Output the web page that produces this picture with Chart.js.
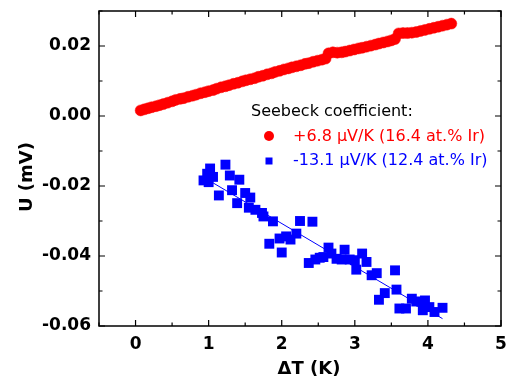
<!DOCTYPE html>
<html>
<head>
<meta charset="utf-8">
<script src="https://cdn.jsdelivr.net/npm/chart.js@4.4.1/dist/chart.umd.min.js"></script>
<style>
  html, body { margin: 0; padding: 0; background: #fff; }
</style>
</head>
<body>
<canvas id="seebeckChart" width="510" height="381"></canvas>
<script>
// 16.4 at.% Ir sample (red circles)
const redX = [
  0.07, 0.12, 0.17, 0.22, 0.28, 0.33, 0.38, 0.44, 0.50, 0.55,
  0.61, 0.66, 0.72, 0.78, 0.83, 0.89, 0.95, 1.00, 1.06, 1.11,
  1.17, 1.23, 1.28, 1.34, 1.40, 1.46, 1.51, 1.57, 1.63, 1.68,
  1.74, 1.80, 1.86, 1.91, 1.97, 2.03, 2.09, 2.14, 2.20, 2.26,
  2.32, 2.37, 2.43, 2.49, 2.55, 2.60, 2.64, 2.70, 2.76, 2.82,
  2.87, 2.93, 2.99, 3.05, 3.10, 3.16, 3.22, 3.28, 3.33, 3.39,
  3.45, 3.50, 3.55, 3.60, 3.66, 3.72, 3.78, 3.84, 3.90, 3.96,
  4.02, 4.08, 4.14, 4.20, 4.26, 4.32
];
const redY = [
  0.0016, 0.0019, 0.0022, 0.0025, 0.0028, 0.0031, 0.0034, 0.0038, 0.0042, 0.0046,
  0.0049, 0.0051, 0.0055, 0.0058, 0.0061, 0.0065, 0.0068, 0.0071, 0.0074, 0.0078,
  0.0082, 0.0085, 0.0088, 0.0092, 0.0095, 0.0099, 0.0102, 0.0105, 0.0108, 0.0112,
  0.0115, 0.0119, 0.0122, 0.0126, 0.0129, 0.0133, 0.0136, 0.0139, 0.0142, 0.0145,
  0.0149, 0.0151, 0.0155, 0.0158, 0.0161, 0.0164, 0.0179, 0.0182, 0.0181, 0.0182,
  0.0184, 0.0187, 0.0190, 0.0193, 0.0195, 0.0198, 0.0201, 0.0204, 0.0207, 0.0210,
  0.0213, 0.0216, 0.0220, 0.0236, 0.0237, 0.0237, 0.0238, 0.0240, 0.0243, 0.0246,
  0.0249, 0.0252, 0.0255, 0.0258, 0.0261, 0.0264
];

// 12.4 at.% Ir sample (blue squares)
const blueX = [
  0.93, 0.98, 1.00, 1.02, 1.06, 1.14, 1.23, 1.29, 1.32, 1.39,
  1.42, 1.50, 1.55, 1.57, 1.64, 1.73, 1.75, 1.83, 1.88, 1.97,
  2.00, 2.06, 2.12, 2.20, 2.25, 2.37, 2.42, 2.46, 2.52, 2.57,
  2.64, 2.68, 2.75, 2.82, 2.86, 2.93, 3.00, 3.02, 3.10, 3.16,
  3.23, 3.30, 3.33, 3.41, 3.55, 3.57, 3.61, 3.70, 3.78, 3.84,
  3.91, 3.93, 3.96, 4.02, 4.09, 4.20
];
const blueY = [
  -0.0184, -0.0165, -0.0189, -0.0150, -0.0174, -0.0227, -0.0139, -0.0170, -0.0212, -0.0249,
  -0.0182, -0.0220, -0.0262, -0.0233, -0.0268, -0.0277, -0.0287, -0.0365, -0.0301, -0.0350,
  -0.0390, -0.0344, -0.0353, -0.0336, -0.0300, -0.0420, -0.0302, -0.0410, -0.0405, -0.0403,
  -0.0376, -0.0393, -0.0408, -0.0410, -0.0382, -0.0410, -0.0412, -0.0439, -0.0393, -0.0417,
  -0.0455, -0.0449, -0.0525, -0.0506, -0.0441, -0.0496, -0.0550, -0.0550, -0.0522, -0.0530,
  -0.0531, -0.0555, -0.0527, -0.0546, -0.0560, -0.0548
];

// linear fit through the blue points
const fitX = [1.06, 4.20];
const fitY = [-0.0191, -0.0579];

const xTicks = [0, 1, 2, 3, 4, 5];
const yTicks = [-0.06, -0.04, -0.02, 0.00, 0.02];

const legendTitle = 'Seebeck coefficient:';
const legendRed = '+6.8 \u00b5V/K (16.4 at.% Ir)';
const legendBlue = '-13.1 \u00b5V/K (12.4 at.% Ir)';

const toPoints = (xs, ys) => xs.map((x, i) => ({ x, y: ys[i] }));

const FONT = '"DejaVu Sans", Arial, sans-serif';

// frame, inward ticks on all four sides, legend and axis titles
const framePlugin = {
  id: 'framePlugin',
  afterDraw(chart) {
    const { ctx, chartArea: a, scales } = chart;
    const xs = scales.x;
    const ys = scales.y;

    ctx.save();
    ctx.strokeStyle = '#000';
    ctx.lineWidth = 1.5;
    ctx.strokeRect(a.left, a.top, a.right - a.left, a.bottom - a.top);

    ctx.lineWidth = 1.2;
    ctx.beginPath();
    for (let k = -1; k <= 10; k++) {
      const v = k / 2;
      const px = xs.getPixelForValue(v);
      const len = k % 2 === 0 ? 6 : 3.5;
      ctx.moveTo(px, a.bottom);
      ctx.lineTo(px, a.bottom - len);
      ctx.moveTo(px, a.top);
      ctx.lineTo(px, a.top + len);
    }
    for (let k = -6; k <= 3; k++) {
      const v = k / 100;
      const py = ys.getPixelForValue(v);
      const len = k % 2 === 0 ? 6 : 3.5;
      ctx.moveTo(a.left, py);
      ctx.lineTo(a.left + len, py);
      ctx.moveTo(a.right, py);
      ctx.lineTo(a.right - len, py);
    }
    ctx.stroke();

    // legend
    ctx.textBaseline = 'middle';
    ctx.textAlign = 'left';
    ctx.font = `16px ${FONT}`;
    ctx.fillStyle = '#000';
    ctx.fillText(legendTitle, 251, 112);

    ctx.fillStyle = '#ff0000';
    ctx.beginPath();
    ctx.arc(269, 136, 5, 0, Math.PI * 2);
    ctx.fill();
    ctx.fillText(legendRed, 293, 137);

    ctx.fillStyle = '#0000ff';
    ctx.fillRect(265.5, 157.5, 7, 7);
    ctx.fillText(legendBlue, 293, 161);

    // axis titles
    ctx.fillStyle = '#000';
    ctx.font = `bold 18px ${FONT}`;
    ctx.textAlign = 'center';
    ctx.fillText('\u0394T (K)', 309, 369);

    ctx.translate(27, 177);
    ctx.rotate(-Math.PI / 2);
    ctx.fillText('U (mV)', 0, 0);
    ctx.restore();
  }
};

new Chart(document.getElementById('seebeckChart'), {
  type: 'scatter',
  data: {
    datasets: [
      {
        label: legendRed,
        data: toPoints(redX, redY),
        backgroundColor: '#ff0000',
        borderColor: '#ff0000',
        borderWidth: 0.5,
        pointStyle: 'circle',
        pointRadius: 5.5
      },
      {
        label: legendBlue,
        data: toPoints(blueX, blueY),
        backgroundColor: '#0000ff',
        borderColor: '#0000ff',
        borderWidth: 0,
        pointStyle: 'rect',
        pointRadius: 7
      },
      {
        label: 'fit',
        type: 'line',
        data: toPoints(fitX, fitY),
        borderColor: '#0000ff',
        borderWidth: 1,
        pointRadius: 0,
        fill: false
      }
    ]
  },
  options: {
    responsive: false,
    animation: false,
    events: [],
    layout: {
      padding: { top: 11, right: 9, left: 0, bottom: 0 }
    },
    plugins: {
      legend: { display: false },
      tooltip: { enabled: false }
    },
    scales: {
      x: {
        type: 'linear',
        min: -0.5,
        max: 5,
        grid: { display: false, drawTicks: false },
        border: { display: false },
        afterBuildTicks: (scale) => {
          scale.ticks = xTicks.map(value => ({ value }));
        },
        afterFit: (scale) => {
          scale.height = 55;
          scale.paddingLeft = 0;
          scale.paddingRight = 0;
        },
        ticks: {
          color: '#000',
          padding: 8,
          maxRotation: 0,
          font: { family: FONT, size: 17, weight: 'bold' },
          callback: (value) => String(value)
        }
      },
      y: {
        type: 'linear',
        min: -0.06,
        max: 0.03,
        grid: { display: false, drawTicks: false },
        border: { display: false },
        afterBuildTicks: (scale) => {
          scale.ticks = yTicks.map(value => ({ value }));
        },
        afterFit: (scale) => {
          scale.width = 99;
          scale.paddingTop = 0;
          scale.paddingBottom = 0;
        },
        ticks: {
          color: '#000',
          padding: 8,
          font: { family: FONT, size: 17, weight: 'bold' },
          callback: (value) => Number(value).toFixed(2)
        }
      }
    }
  },
  plugins: [framePlugin]
});
</script>
</body>
</html>
